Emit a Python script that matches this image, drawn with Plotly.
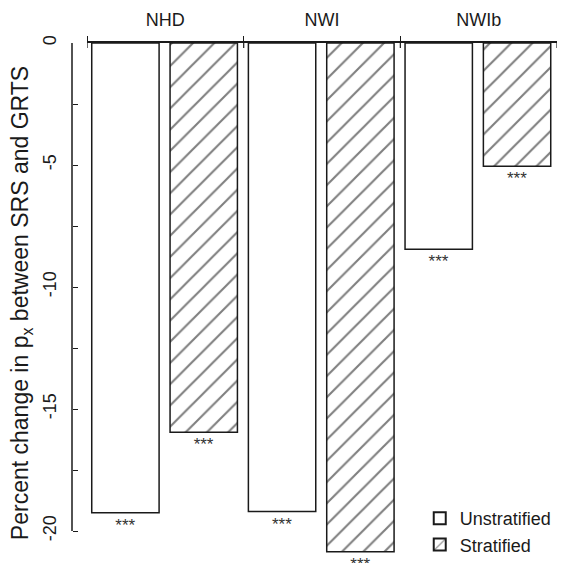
import plotly.graph_objects as go

categories = ["NHD", "NWI", "NWIb"]
unstratified = [-19.25, -19.2, -8.45]
stratified = [-15.95, -20.85, -5.05]
sig_unstratified = ["***", "***", "***"]
sig_stratified = ["***", "***", "***"]
y_tick_vals = [0, -2.5, -5, -7.5, -10, -12.5, -15, -17.5, -20]
y_tick_text = ["0", "", "-5", "", "-10", "", "-15", "", "-20"]

FONT = "Liberation Sans, Arial, sans-serif"
INK = "#1a1a1a"

fig = go.Figure()
fig.add_trace(go.Bar(
    x=categories, y=unstratified, name="Unstratified",
    width=0.43, offset=-0.47,
    marker=dict(color="white", line=dict(color=INK, width=1.5)),
    text=sig_unstratified, textposition="outside", cliponaxis=False,
    textfont=dict(size=17, color="#333", family=FONT),
))
fig.add_trace(go.Bar(
    x=categories, y=stratified, name="Stratified",
    width=0.43, offset=0.03,
    marker=dict(color="white", line=dict(color=INK, width=1.5),
                pattern=dict(shape="/", fgcolor="black", bgcolor="white", size=15, solidity=0.14)),
    text=sig_stratified, textposition="outside", cliponaxis=False,
    textfont=dict(size=17, color="#333", family=FONT),
))

# y axis line spanning only the labelled tick range
fig.add_shape(type="line", xref="paper", yref="y", x0=0, x1=0,
              y0=max(y_tick_vals), y1=min(y_tick_vals),
              line=dict(color=INK, width=1.5))
# downward part of the boundary ticks on the top axis
for i in range(len(categories) + 1):
    fig.add_shape(type="line", xref="x", yref="paper", x0=i - 0.5, x1=i - 0.5,
                  ysizemode="pixel", yanchor=1, y0=0, y1=-5,
                  line=dict(color=INK, width=1.2))

fig.update_layout(
    width=564, height=563,
    margin=dict(l=72, r=7, t=43, b=0),
    paper_bgcolor="white", plot_bgcolor="white",
    font=dict(family=FONT, size=18, color=INK),
    barmode="group",
    showlegend=True,
    legend=dict(x=0.717, y=0, xanchor="left", yanchor="bottom",
                bgcolor="rgba(0,0,0,0)", font=dict(size=18, color=INK),
                tracegroupgap=0, itemsizing="constant"),
    xaxis=dict(
        type="category", side="top", domain=[0.031, 1], range=[-0.5, 2.5],
        showline=True, linecolor=INK, linewidth=1.5,
        ticks="outside", tickson="boundaries", ticklen=5, tickcolor=INK, tickwidth=1.2,
        showgrid=False, zeroline=False, ticklabelstandoff=8,
        tickfont=dict(size=18, color=INK),
    ),
    yaxis=dict(
        anchor="free", position=0,
        range=[-21.31, 0], showline=False, showgrid=False, zeroline=False,
        tickvals=y_tick_vals, ticktext=y_tick_text, tickangle=-90,
        ticks="inside", ticklen=5, tickcolor=INK, tickwidth=1.2,
        ticklabelstandoff=12,
        tickfont=dict(size=18, color=INK),
        title=dict(text="Percent change in p<sub>x</sub> between SRS and GRTS",
                   font=dict(size=23, color=INK), standoff=4),
    ),
)

fig.write_html("out.html", config={"displayModeBar": False},
               post_script="document.body.style.margin='0';document.body.style.overflow='hidden';")
